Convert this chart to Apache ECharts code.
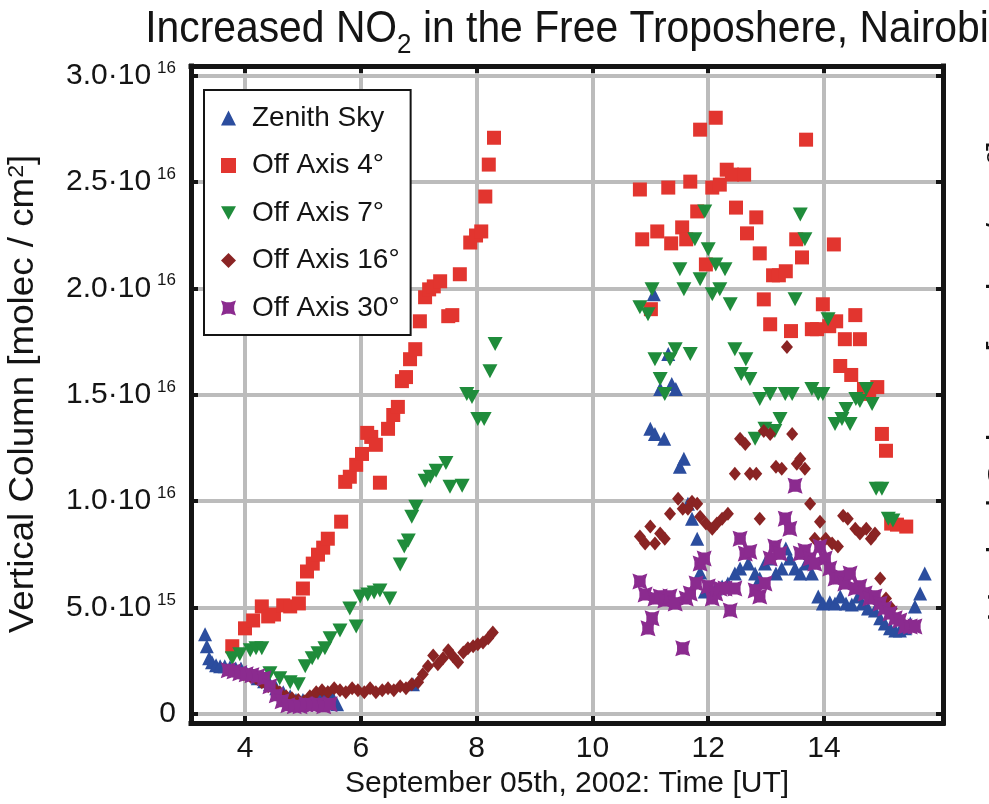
<!DOCTYPE html>
<html>
<head>
<meta charset="utf-8">
<title>Increased NO2 in the Free Troposphere, Nairobi</title>
<script src="https://cdn.jsdelivr.net/npm/echarts@6/dist/echarts.min.js"></script>
<style>
  html, body { margin: 0; padding: 0; background: #fff; }
  #chart { width: 989px; height: 804px; }
</style>
</head>
<body>
<div id="chart"></div>
<script>
// NO2 vertical columns, Nairobi, 5 Sep 2002.
// Each point: [time in hours UT, vertical column in units of 1e15 molec/cm2]
const UNIT = 1e15;

const zenithSky = [
  [3.31,3.75],[3.34,3.19],[3.38,2.62],[3.43,2.44],[3.50,2.30],[3.57,2.25],[3.65,2.25],[3.74,2.20],
  [3.84,2.15],[3.93,2.15],[4.02,1.97],[4.12,1.87],[4.22,1.69],[4.33,1.55],[4.43,1.41],[4.54,1.22],
  [4.66,1.03],[4.78,0.84],[4.88,0.66],[5.00,0.66],[5.12,0.75],[5.23,0.84],[5.33,1.03],[5.43,1.03],
  [5.52,0.75],[5.59,0.47],[6.90,1.41],
  [11.00,13.40],[11.06,19.72],[11.08,13.16],[11.17,15.27],[11.24,12.93],[11.31,16.91],[11.37,15.50],
  [11.44,15.27],[11.51,11.62],[11.58,11.99],[11.65,9.88],[11.72,9.18],[11.81,8.24],[11.86,6.65],
  [11.94,5.76],[12.03,5.90],[12.13,5.90],[12.24,6.00],[12.34,6.14],[12.46,6.60],[12.55,6.84],
  [12.69,7.07],[12.81,6.60],[12.89,6.37],[12.98,7.07],[13.07,7.31],[13.17,6.60],[13.27,6.84],
  [13.34,7.78],[13.41,7.31],[13.50,6.84],[13.59,6.60],[13.69,7.07],[13.79,6.60],[13.90,5.53],
  [13.98,5.20],[14.10,5.25],[14.19,5.20],[14.28,5.53],[14.38,5.20],[14.48,5.15],[14.59,5.53],
  [14.66,5.20],[14.76,4.96],[14.88,4.87],[14.97,4.50],[15.05,4.26],[15.14,4.03],[15.23,3.93],
  [15.31,3.93],[15.40,4.03],[15.49,4.26],[15.57,5.06],[15.66,5.67],[15.74,6.60]
];

const offAxis4 = [
  [3.78,3.19],[4.00,4.03],[4.14,4.40],[4.29,5.06],[4.40,4.59],[4.50,4.68],[4.66,5.11],[4.78,5.06],
  [4.93,5.20],[5.00,5.90],[5.07,6.70],[5.17,7.07],[5.26,7.49],[5.35,7.82],[5.43,8.24],[5.66,9.04],
  [5.73,10.91],[5.81,11.15],[5.92,11.71],[6.02,12.22],[6.11,13.21],[6.18,13.02],[6.26,12.65],
  [6.33,10.87],[6.47,13.40],[6.56,14.05],[6.64,14.43],[6.71,15.64],[6.78,15.83],[6.85,16.67],
  [6.94,17.14],[7.02,18.45],[7.11,19.58],[7.18,19.95],[7.26,20.09],[7.37,20.33],[7.51,18.69],
  [7.58,18.74],[7.71,20.66],[7.89,22.15],[7.99,22.48],[8.08,22.67],[8.15,24.31],[8.21,25.81],
  [8.30,27.07],
  [10.82,24.64],[10.86,22.30],[11.01,19.02],[11.12,22.67],[11.31,24.73],[11.36,22.11],[11.55,22.86],
  [11.62,22.30],[11.69,25.01],[11.81,23.61],[11.86,27.45],[11.96,21.12],[12.07,24.73],[12.13,28.01],
  [12.20,24.87],[12.32,25.57],[12.41,25.34],[12.48,23.79],[12.62,25.34],[12.67,22.58],[12.83,23.33],
  [12.89,21.64],[12.96,19.48],[13.07,18.31],[13.12,20.61],[13.22,20.61],[13.34,20.80],[13.43,17.99],
  [13.52,22.30],[13.62,21.45],[13.69,26.98],[13.79,18.08],[13.88,18.08],[13.98,19.25],[14.09,18.22],
  [14.17,22.06],[14.21,18.45],[14.28,16.35],[14.36,17.61],[14.47,15.93],[14.54,18.74],[14.62,17.61],
  [14.69,15.27],[14.78,15.04],[14.92,15.36],[15.00,13.16],[15.07,12.37],[15.16,8.95],[15.26,8.90],
  [15.42,8.81]
];

const offAxis7 = [
  [3.78,2.62],[3.91,2.81],[4.09,3.00],[4.19,3.09],[4.29,3.09],[4.43,1.92],[4.60,1.69],[4.78,1.50],
  [4.92,1.41],[5.04,2.25],[5.16,2.62],[5.26,2.86],[5.38,3.09],[5.47,3.56],[5.64,3.93],[5.81,4.96],
  [5.92,4.12],[5.99,5.53],[6.12,5.62],[6.23,5.71],[6.33,5.81],[6.50,5.43],[6.68,7.03],[6.75,7.87],
  [6.82,8.15],[6.88,9.27],[6.95,9.74],[7.11,10.96],[7.20,11.15],[7.30,11.43],[7.47,11.80],
  [7.54,10.68],[7.75,10.73],[7.83,15.04],[7.92,14.89],[8.02,13.86],[8.13,13.86],[8.23,16.11],
  [8.32,17.38],
  [10.82,19.11],[10.96,18.78],[11.03,19.95],[11.08,16.67],[11.17,15.74],[11.25,15.04],[11.34,16.67],
  [11.43,17.14],[11.51,20.89],[11.58,19.95],[11.69,16.91],[11.77,22.30],[11.86,20.42],[11.94,23.61],
  [12.00,21.83],[12.07,19.72],[12.13,21.12],[12.20,19.95],[12.29,20.89],[12.38,19.25],[12.46,17.14],
  [12.57,15.97],[12.65,16.67],[12.72,15.74],[12.81,12.93],[12.89,14.80],[12.98,13.40],[13.07,15.04],
  [13.15,13.30],[13.24,13.86],[13.33,15.04],[13.45,15.04],[13.50,19.48],[13.59,23.47],[13.67,22.30],
  [13.79,15.27],[13.90,15.04],[13.98,15.04],[14.07,18.55],[14.19,13.63],[14.31,13.86],[14.38,14.33],
  [14.45,13.63],[14.55,14.80],[14.62,14.71],[14.73,15.27],[14.83,14.57],[14.90,10.59],[15.00,10.59],
  [15.11,9.18],[15.19,9.09]
];

const offAxis16 = [
  [3.78,2.06],[3.88,1.97],[3.98,1.87],[4.09,1.78],[4.19,1.69],[4.29,1.50],[4.40,1.31],[4.50,1.22],
  [4.60,1.03],[4.71,0.84],[4.81,0.75],[4.92,0.66],[5.02,0.61],[5.12,0.84],[5.23,1.03],[5.33,1.12],
  [5.43,1.03],[5.54,1.22],[5.64,1.12],[5.74,1.03],[5.85,1.22],[5.95,1.12],[6.06,1.03],[6.16,1.22],
  [6.26,1.03],[6.37,1.12],[6.47,1.22],[6.57,1.12],[6.68,1.31],[6.78,1.22],[6.88,1.41],[6.99,1.50],
  [7.07,1.87],[7.16,2.25],[7.25,2.76],[7.33,2.34],[7.42,2.62],[7.51,3.00],[7.59,2.72],[7.68,2.44],
  [7.77,2.90],[7.85,3.09],[7.94,3.19],[8.02,3.28],[8.11,3.37],[8.20,3.56],[8.28,3.84],
  [10.82,8.34],[10.91,8.01],[11.00,8.81],[11.08,8.01],[11.17,8.48],[11.25,8.24],[11.34,9.41],
  [11.48,10.12],[11.56,9.65],[11.65,9.65],[11.72,9.98],[11.81,9.88],[11.86,9.27],[11.96,8.95],
  [12.07,8.71],[12.15,8.95],[12.24,9.18],[12.34,9.41],[12.46,11.29],[12.55,12.93],[12.64,12.69],
  [12.72,11.29],[12.83,11.29],[12.89,9.18],[12.96,13.30],[13.07,13.16],[13.17,11.62],[13.27,11.52],
  [13.36,17.24],[13.45,13.16],[13.53,11.76],[13.59,11.99],[13.67,11.52],[13.76,9.88],[13.84,8.24],
  [13.93,9.04],[14.03,8.24],[14.14,8.01],[14.24,7.87],[14.33,9.32],[14.41,9.18],[14.54,8.71],
  [14.62,8.48],[14.73,8.71],[14.81,8.24],[14.88,8.48],[14.97,6.37],[15.07,5.43],[15.17,4.96]
];

const offAxis30 = [
  [3.71,2.06],[3.81,2.01],[3.91,1.92],[4.02,1.87],[4.12,1.83],[4.22,1.78],[4.33,1.69],[4.43,1.31],
  [4.54,0.89],[4.64,0.61],[4.74,0.42],[4.85,0.37],[4.95,0.37],[5.05,0.47],[5.16,0.42],[5.26,0.47],
  [5.36,0.37],[5.47,0.47],
  [10.82,6.23],[10.91,5.62],[10.96,4.03],[11.03,4.50],[11.08,5.43],[11.17,5.53],[11.25,5.34],
  [11.34,5.53],[11.43,5.20],[11.56,3.09],[11.62,5.43],[11.69,5.67],[11.79,6.14],[11.86,7.07],
  [11.93,7.31],[12.00,6.00],[12.07,5.43],[12.13,5.67],[12.20,5.90],[12.29,5.90],[12.38,4.87],
  [12.46,5.90],[12.55,8.24],[12.64,7.54],[12.72,7.63],[12.81,5.81],[12.89,5.53],[12.98,6.14],
  [13.07,7.31],[13.15,7.87],[13.24,7.54],[13.33,9.18],[13.41,8.71],[13.50,10.73],[13.59,7.54],
  [13.67,7.68],[13.76,7.31],[13.84,7.07],[13.93,7.87],[14.02,7.31],[14.10,6.84],[14.19,6.37],
  [14.28,6.46],[14.36,6.14],[14.45,6.60],[14.54,5.90],[14.62,6.00],[14.71,5.67],[14.79,5.43],
  [14.88,5.53],[14.97,5.20],[15.05,4.96],[15.14,4.73],[15.23,4.50],[15.31,4.40],[15.40,4.12],
  [15.49,4.12],[15.57,4.12]
];

// axis extents and tick positions
const xRange = [3.067, 16.055];
const xTicks = [4, 6, 8, 10, 12, 14];
const yRange = [-0.42 * UNIT, 30.44 * UNIT];
const yTicks = [0, 5, 10, 15, 20, 25, 30].map(v => v * UNIT);

const FONT = '"Liberation Sans", Arial, Helvetica, sans-serif';
const INK = '#141414';
const GRID_GREY = '#bcbcbc';

// marker shapes
const SYM_DOWN = 'path://M0,0 L10,0 L5,9 Z';
const SYM_BLOB = 'path://M0,0 L3.5,1.2 L6.5,1.2 L10,0 L8.8,3.5 L8.8,6.5 L10,10 L6.5,8.8 L3.5,8.8 L0,10 L1.2,6.5 L1.2,3.5 Z';

// "3.0·10^16" style label
function sciLabel(v) {
  if (Math.abs(v) < 1) return '{m|0}';
  const exp = Math.floor(Math.log10(v) + 1e-9);
  const mant = v / Math.pow(10, exp);
  return '{m|' + mant.toFixed(1) + '·10}{e|' + exp + '}';
}

const scale = arr => arr.map(p => [p[0], p[1] * UNIT]);

const frameLine = { lineStyle: { color: INK, width: 5, cap: 'square' } };
const innerTick = (vals) => ({ inside: true, length: 7, customValues: vals, lineStyle: { color: INK, width: 4 } });

const yTitleText = 'Vertical Column [molec / cm{s|2}]';
const yTitleStyle = {
  text: yTitleText,
  fontFamily: FONT, fontSize: 35, fill: INK,
  align: 'center', verticalAlign: 'top',
  rich: { s: { fontFamily: FONT, fontSize: 22, fill: INK, verticalAlign: 'top', lineHeight: 22 } }
};

const chart = echarts.init(document.getElementById('chart'), null, { renderer: 'canvas' });

chart.setOption({
  backgroundColor: '#ffffff',
  animation: false,
  legend: {
    orient: 'vertical',
    left: 204,
    top: 90,
    padding: [13, 11, 12, 17],
    itemWidth: 15,
    itemHeight: 15,
    itemGap: 17.5,
    backgroundColor: '#ffffff',
    borderColor: INK,
    borderWidth: 2,
    borderRadius: 0,
    textStyle: { fontFamily: FONT, fontSize: 28, color: INK, lineHeight: 30, padding: [0, 0, 0, 11] },
    data: [
      { name: 'Zenith Sky', icon: 'triangle' },
      { name: 'Off Axis 4°', icon: 'rect' },
      { name: 'Off Axis 7°', icon: SYM_DOWN },
      { name: 'Off Axis 16°', icon: 'diamond' },
      { name: 'Off Axis 30°', icon: SYM_BLOB }
    ]
  },
  grid: { left: 191, right: 46, top: 66, bottom: 79, containLabel: false },
  xAxis: [
    {
      type: 'value', position: 'bottom', min: xRange[0], max: xRange[1],
      axisLine: Object.assign({ onZero: false }, frameLine),
      axisTick: innerTick(xTicks),
      axisLabel: { customValues: xTicks, margin: 11, fontFamily: FONT, fontSize: 30, color: INK },
      splitLine: { show: true, lineStyle: { color: GRID_GREY, width: 4 } },
      name: 'September 05th, 2002: Time [UT]',
      nameLocation: 'middle',
      nameGap: 38,
      nameTextStyle: { fontFamily: FONT, fontSize: 30, color: INK }
    },
    {
      type: 'value', position: 'top', min: xRange[0], max: xRange[1],
      axisLine: Object.assign({ onZero: false }, frameLine),
      axisTick: innerTick(xTicks),
      axisLabel: { show: false },
      splitLine: { show: false }
    }
  ],
  yAxis: [
    {
      type: 'value', position: 'left', min: yRange[0], max: yRange[1],
      axisLine: Object.assign({ onZero: false }, frameLine),
      axisTick: innerTick(yTicks),
      axisLabel: {
        customValues: yTicks,
        margin: 15,
        formatter: sciLabel,
        rich: {
          m: { fontFamily: FONT, fontSize: 30, color: INK, lineHeight: 32 },
          e: { fontFamily: FONT, fontSize: 17, color: INK, lineHeight: 17, verticalAlign: 'top', padding: [0, 0, 0, 6] }
        }
      },
      splitLine: { show: true, lineStyle: { color: GRID_GREY, width: 4 } }
    },
    {
      type: 'value', position: 'right', min: yRange[0], max: yRange[1],
      axisLine: Object.assign({ onZero: false }, frameLine),
      axisTick: innerTick(yTicks),
      axisLabel: { show: false },
      splitLine: { show: false }
    }
  ],
  graphic: [
    {
      // chart title, set in a condensed face
      type: 'text',
      x: 567, y: 1,
      scaleX: 0.928,
      style: {
        text: '{a|Increased NO}{s|2}{a| in the Free Troposhere, Nairobi}',
        align: 'center', verticalAlign: 'top',
        rich: {
          a: { fontFamily: FONT, fontSize: 44, fontWeight: 'normal', fill: INK, lineHeight: 58 },
          s: { fontFamily: FONT, fontSize: 28, fontWeight: 'normal', fill: INK, lineHeight: 26, verticalAlign: 'bottom' }
        }
      }
    },
    {
      // y-axis title
      type: 'text',
      x: 6, y: 394,
      rotation: Math.PI / 2,
      scaleX: 1.05,
      style: yTitleStyle
    },
    {
      // axis title of the neighbouring panel, clipped by the page edge
      type: 'text',
      x: 985, y: 380,
      rotation: Math.PI / 2,
      scaleX: 1.05,
      style: yTitleStyle
    }
  ],
  series: [
    {
      name: 'Zenith Sky', type: 'scatter', data: scale(zenithSky),
      symbol: 'triangle', symbolSize: 14,
      itemStyle: { color: '#2b4d9e', opacity: 1 }
    },
    {
      name: 'Off Axis 4°', type: 'scatter', data: scale(offAxis4),
      symbol: 'rect', symbolSize: 14,
      itemStyle: { color: '#e2352f', opacity: 1 }
    },
    {
      name: 'Off Axis 7°', type: 'scatter', data: scale(offAxis7),
      symbol: SYM_DOWN, symbolSize: [15, 14],
      itemStyle: { color: '#1f8c3b', opacity: 1 }
    },
    {
      name: 'Off Axis 16°', type: 'scatter', data: scale(offAxis16),
      symbol: 'diamond', symbolSize: [12, 14],
      itemStyle: { color: '#8a2424', opacity: 1 }
    },
    {
      name: 'Off Axis 30°', type: 'scatter', data: scale(offAxis30),
      symbol: SYM_BLOB,
      symbolSize: [15, 16],
      itemStyle: { color: '#8b2b8f', opacity: 1 }
    }
  ]
});
</script>
</body>
</html>
